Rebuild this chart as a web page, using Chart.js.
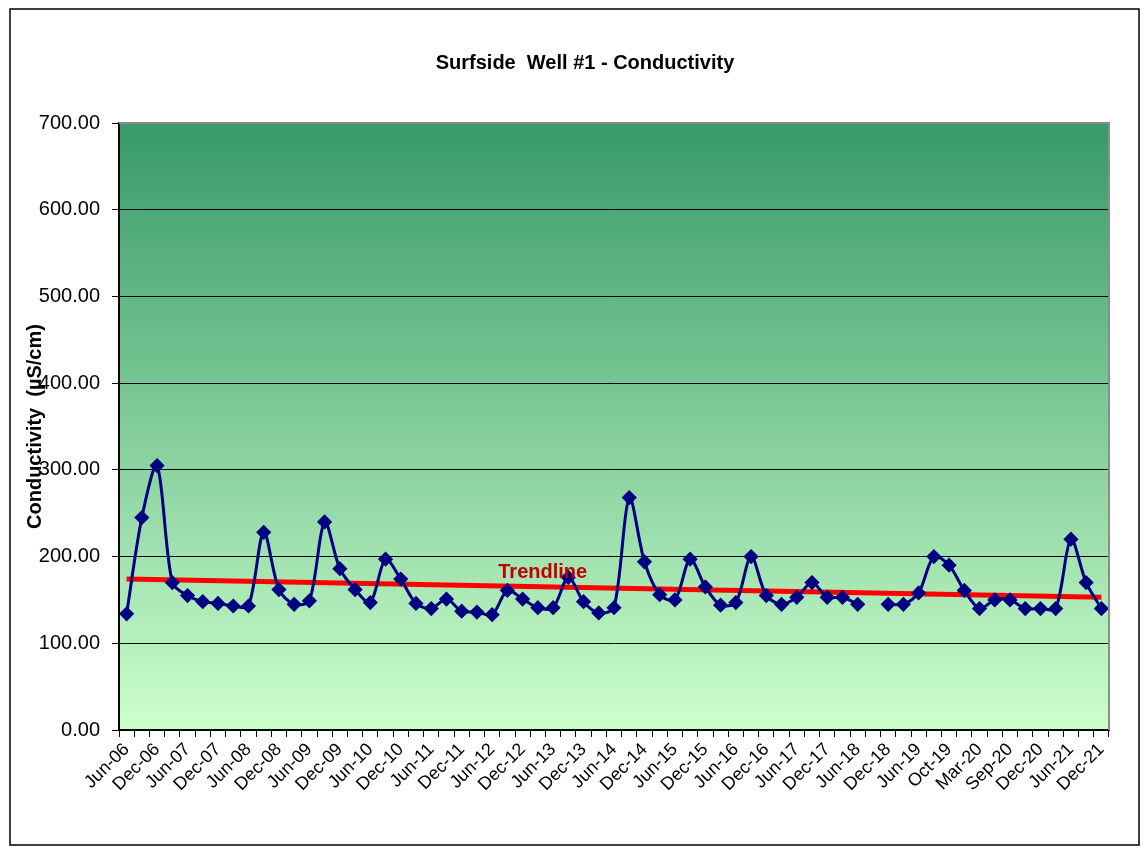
<!DOCTYPE html>
<html>
<head>
<meta charset="utf-8">
<script src="https://cdn.jsdelivr.net/npm/chart.js@4.4.1/dist/chart.umd.min.js"></script>
<style>
  body { margin: 0; background: #fff; }
  #wrap { width: 1143px; height: 846px; }
</style>
</head>
<body>
<div id="wrap"><canvas id="myChart"></canvas></div>
<script>
// quarterly sample dates (only every second one is labelled on the axis)
const months = [
  "Jun-06", "Sep-06", "Dec-06", "Mar-07", "Jun-07", "Sep-07", "Dec-07", "Mar-08",
  "Jun-08", "Sep-08", "Dec-08", "Mar-09", "Jun-09", "Sep-09", "Dec-09", "Mar-10",
  "Jun-10", "Sep-10", "Dec-10", "Mar-11", "Jun-11", "Sep-11", "Dec-11", "Mar-12",
  "Jun-12", "Sep-12", "Dec-12", "Mar-13", "Jun-13", "Sep-13", "Dec-13", "Mar-14",
  "Jun-14", "Sep-14", "Dec-14", "Mar-15", "Jun-15", "Sep-15", "Dec-15", "Mar-16",
  "Jun-16", "Sep-16", "Dec-16", "Mar-17", "Jun-17", "Sep-17", "Dec-17", "Mar-18",
  "Jun-18", "Sep-18", "Dec-18", "Mar-19", "Jun-19", "Aug-19", "Oct-19", "Dec-19",
  "Mar-20", "Jun-20", "Sep-20", "Nov-20", "Dec-20", "Mar-21", "Jun-21", "Sep-21",
  "Dec-21"
];

const conductivity = [
  134, 245, 305, 170, 155, 148, 146, 143,
  143, 228, 162, 145, 149, 240, 186, 162,
  147, 197, 174, 146, 140, 151, 137, 136,
  133, 161, 151, 141, 141, 176, 148, 135,
  141, 268, 194, 156, 150, 197, 165, 144,
  147, 200, 155, 145, 153, 170, 153, 153,
  145, null, 145, 145, 158, 200, 190, 161,
  140, 150, 150, 140, 140, 140, 220, 170,
  140
];

// trendline end values
const trendStart = 174;
const trendEnd = 153;

const yTicks = [0, 100, 200, 300, 400, 500, 600, 700];

const trend = months.map((m, i) =>
  i === 0 ? trendStart : i === months.length - 1 ? trendEnd : null
);

const FONT = '"Liberation Sans", Arial, sans-serif';

const decorations = {
  id: "decorations",
  beforeDraw(chart) {
    const { ctx, chartArea: a } = chart;
    ctx.save();
    ctx.fillStyle = "#ffffff";
    ctx.fillRect(0, 0, chart.width, chart.height);
    const g = ctx.createLinearGradient(0, a.top, 0, a.bottom);
    g.addColorStop(0, "#379A68");
    g.addColorStop(1, "#CCFFCC");
    ctx.fillStyle = g;
    ctx.fillRect(a.left, a.top, a.right - a.left, a.bottom - a.top);
    ctx.restore();
  },
  afterDraw(chart) {
    const { ctx, chartArea: a, scales } = chart;
    ctx.save();
    // plot frame top / right
    ctx.strokeStyle = "#8c8c8c";
    ctx.lineWidth = 2;
    ctx.beginPath();
    ctx.moveTo(a.left, a.top);
    ctx.lineTo(a.right, a.top);
    ctx.lineTo(a.right, a.bottom);
    ctx.stroke();
    // outer frame
    ctx.strokeStyle = "#000";
    ctx.lineWidth = 1.5;
    ctx.strokeRect(10, 9, 1129, 836);
    // title
    ctx.fillStyle = "#000";
    ctx.font = "bold 20px " + FONT;
    ctx.textAlign = "center";
    ctx.textBaseline = "middle";
    ctx.fillText("Surfside  Well #1 - Conductivity", 585, 63);
    // trendline label
    ctx.fillStyle = "#C00000";
    ctx.textAlign = "left";
    ctx.textBaseline = "alphabetic";
    ctx.fillText("Trendline", scales.x.getPixelForValue(24.4), scales.y.getPixelForValue(175));
    ctx.restore();
  }
};

const config = {
  type: "line",
  data: {
    labels: months,
    datasets: [
      {
        label: "Conductivity",
        data: conductivity,
        borderColor: "#000080",
        backgroundColor: "#000080",
        borderWidth: 3,
        tension: 0.3,
        pointStyle: "rectRot",
        pointRadius: 5.5,
        spanGaps: false,
        order: 1,
      },
      {
        label: "Trendline",
        data: trend,
        borderColor: "#FF0000",
        borderWidth: 5,
        pointRadius: 0,
        spanGaps: true,
        tension: 0,
        order: 2,
      },
    ],
  },
  options: {
    responsive: true,
    maintainAspectRatio: false,
    animation: false,
    layout: { padding: { left: 10, right: 34, top: 123, bottom: 0 } },
    plugins: {
      legend: { display: false },
      tooltip: { enabled: false },
    },
    scales: {
      x: {
        type: "category",
        offset: true,
        grid: {
          offset: true,
          drawOnChartArea: false,
          color: "#000",
          tickLength: 7,
        },
        border: { color: "#000", width: 2 },
        ticks: {
          autoSkip: false,
          maxRotation: 45,
          minRotation: 45,
          padding: 2,
          color: "#000",
          font: { family: FONT, size: 18 },
          callback: function (v, i) {
            return i % 2 === 0 ? months[i] : "";
          },
        },
        afterFit(scale) {
          scale.height = 116;
        },
      },
      y: {
        min: 0,
        max: 700,
        afterBuildTicks(scale) {
          scale.ticks = yTicks.map((v) => ({ value: v }));
        },
        grid: { color: "#000", lineWidth: 1, tickLength: 7 },
        border: { color: "#000", width: 2 },
        ticks: {
          padding: 12,
          color: "#000",
          font: { family: FONT, size: 20 },
          callback: (v) => Number(v).toFixed(2),
        },
        title: {
          display: true,
          text: "Conductivity  (µS/cm)",
          color: "#000",
          font: { family: FONT, size: 20, weight: "bold" },
          padding: { top: 13, bottom: 0 },
        },
        afterFit(scale) {
          scale.width = 109;
        },
      },
    },
  },
  plugins: [decorations],
};

const myChart = new Chart(document.getElementById("myChart"), config);
</script>
</body>
</html>
